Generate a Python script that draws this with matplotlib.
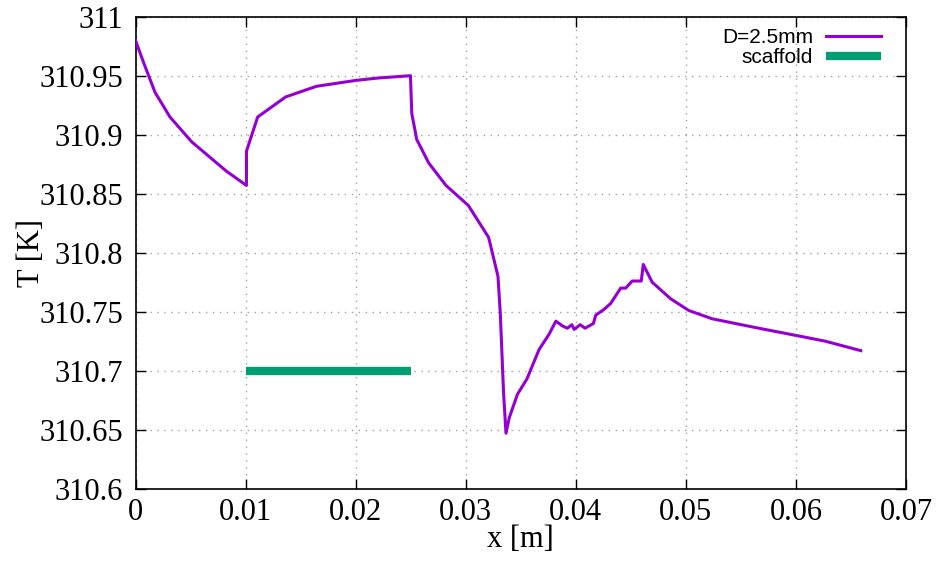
import matplotlib
matplotlib.use("Agg")
import matplotlib.pyplot as plt

x_d25 = [0.0000, 0.0007, 0.00177, 0.00313, 0.0051, 0.00827, 0.01008, 0.01008, 0.0111,
         0.01364, 0.01643, 0.0200, 0.0220, 0.02498, 0.0251, 0.02555, 0.02664, 0.02821,
         0.03024, 0.03208, 0.03293, 0.03314, 0.03344, 0.03366, 0.03395, 0.0347, 0.03556,
         0.03667, 0.03758, 0.03819, 0.03878, 0.03924, 0.03964, 0.03985, 0.0404, 0.04084,
         0.0416, 0.04181, 0.04257, 0.04317, 0.04408, 0.04453, 0.04513, 0.04595, 0.04613,
         0.04694, 0.04861, 0.05027, 0.05239, 0.05450, 0.05662, 0.05995, 0.06267, 0.06589]
T_d25 = [310.980, 310.962, 310.936, 310.915, 310.894, 310.869, 310.857, 310.886, 310.915,
         310.932, 310.941, 310.946, 310.948, 310.950, 310.918, 310.896, 310.876, 310.857,
         310.840, 310.813, 310.780, 310.749, 310.681, 310.647, 310.660, 310.680, 310.693,
         310.718, 310.731, 310.742, 310.738, 310.736, 310.739, 310.735, 310.739, 310.736,
         310.740, 310.747, 310.752, 310.757, 310.770, 310.770, 310.776, 310.776, 310.790,
         310.775, 310.761, 310.751, 310.744, 310.740, 310.736, 310.730, 310.725, 310.717]

x_scaffold = [0.01, 0.025]
T_scaffold = [310.7, 310.7]

xticks = [0, 0.01, 0.02, 0.03, 0.04, 0.05, 0.06, 0.07]
xticklabels = ["0", "0.01", "0.02", "0.03", "0.04", "0.05", "0.06", "0.07"]
yticks = [310.6, 310.65, 310.7, 310.75, 310.8, 310.85, 310.9, 310.95, 311]
yticklabels = ["310.6", "310.65", "310.7", "310.75", "310.8", "310.85", "310.9", "310.95", "311"]

fig = plt.figure(figsize=(9.43, 5.62), dpi=100)
ax = fig.add_axes([135.5/943, 1-488.7/562, (906-135.5)/943, (488.7-16.7)/562])

ax.plot(x_d25, T_d25, color="#9400d3", lw=2.2, label="D=2.5mm", zorder=3)
ax.plot(x_scaffold, T_scaffold, color="#009e73", lw=6, label="scaffold",
        solid_capstyle="butt", zorder=3)

ax.set_xlim(0, 0.07)
ax.set_ylim(310.6, 311)
ax.set_xticks(xticks)
ax.set_xticklabels(xticklabels)
ax.set_yticks(yticks)
ax.set_yticklabels(yticklabels)

serif = "Liberation Serif"
for lab in ax.get_xticklabels() + ax.get_yticklabels():
    lab.set_fontfamily(serif)
    lab.set_fontsize(22)

ax.tick_params(direction="in", length=7, width=1, top=True, right=True)
ax.tick_params(axis="x", pad=7)
ax.tick_params(axis="y", pad=9)
ax.grid(True, color="#a0a0a0", linestyle=(0, (1, 4)), linewidth=1)
for s in ax.spines.values():
    s.set_linewidth(1.2)

ax.set_xlabel("x [m]", fontfamily=serif, fontsize=22, labelpad=-2)
ax.set_ylabel("T [K]", fontfamily=serif, fontsize=22, labelpad=-5)

leg = ax.legend(loc="upper right", frameon=False, markerfirst=False,
                prop={"family": "Liberation Sans", "size": 15},
                handlelength=2.6, handletextpad=0.65, labelspacing=0.05,
                borderaxespad=0.3, bbox_to_anchor=(0.986, 1.007))
for t in leg.get_texts():
    t.set_ha("right")

fig.savefig("out.png", dpi=100)
